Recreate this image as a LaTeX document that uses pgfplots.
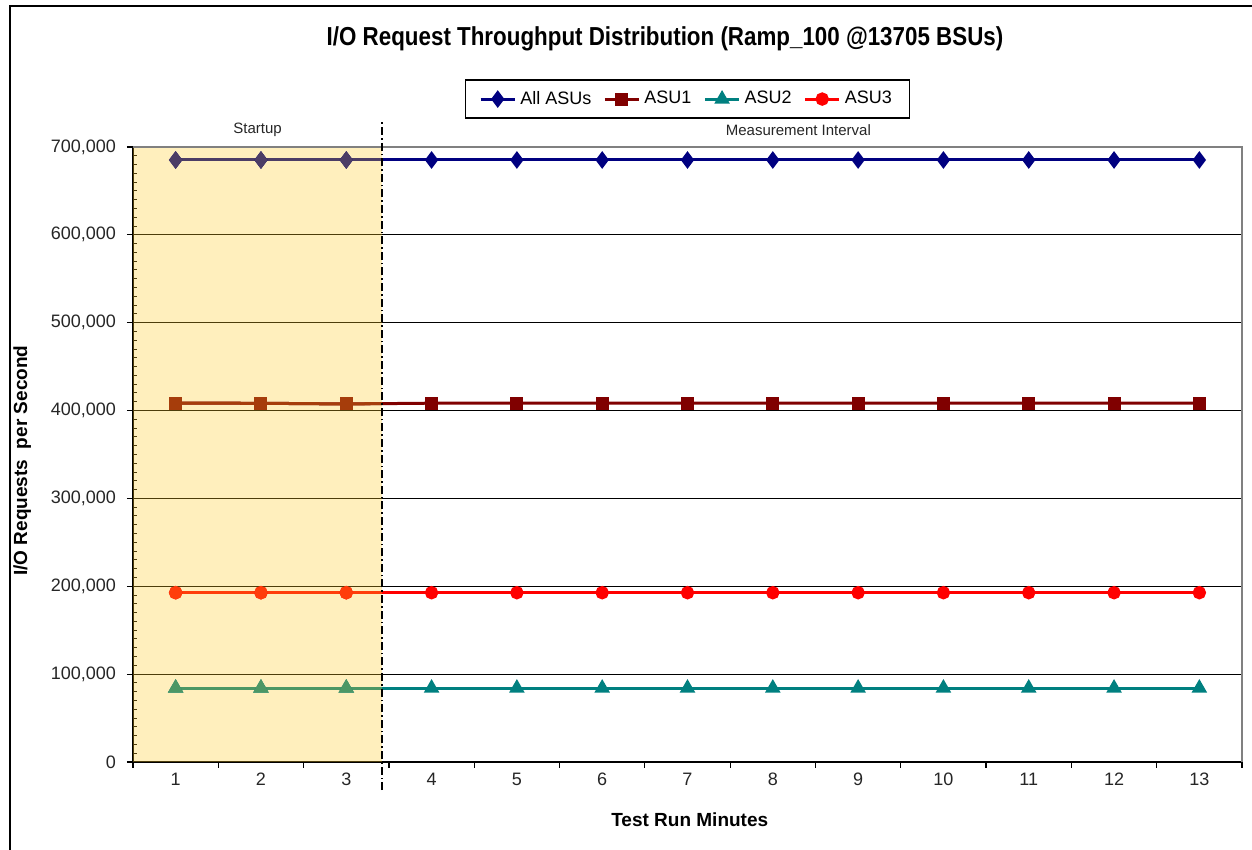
\documentclass[border=0pt]{standalone}
\usepackage{pgfplots}
\pgfplotsset{compat=1.18}
\usepackage{fontspec}
\setmainfont{Liberation Sans}
\newfontfamily\condfont{Liberation Sans}[FakeStretch=0.86]
\definecolor{cAll}{RGB}{0,0,128}
\definecolor{cA1}{RGB}{128,0,0}
\definecolor{cA2}{RGB}{0,128,128}
\definecolor{cA3}{RGB}{255,0,0}
\definecolor{tAll}{RGB}{76,61,101}
\definecolor{tA1}{RGB}{166,61,11}
\definecolor{tA2}{RGB}{76,151,101}
\definecolor{tA3}{RGB}{255,61,11}
\definecolor{cStart}{RGB}{255,205,38}
\begin{document}
\begin{tikzpicture}
\useasboundingbox (-66.5pt,-44pt) rectangle (559.5pt,381pt);
\fill[white] (-66.5pt,-44pt) rectangle (559.5pt,381pt);
\draw[line width=1pt] (-61.5pt,-50pt) -- (-61.5pt,378pt) -- (565pt,378pt);
\begin{axis}[
  at={(0,0)}, anchor=south west,
  scale only axis, width=554.5pt, height=307.5pt,
  xmin=0.5, xmax=13.5, ymin=0, ymax=700000,
  axis lines*=left,
  axis line style={black, line width=0.6pt},
  xtick={0.5,1.5,...,13.5},
  xticklabels={},
  extra x ticks={1,2,3,4,5,6,7,8,9,10,11,12,13},
  extra x tick labels={1,2,3,4,5,6,7,8,9,10,11,12,13},
  extra x tick style={major tick length=0pt, tick style={draw=none}},
  ytick={0,100000,...,700000},
  minor y tick num=9,
  scaled y ticks=false,
  tick align=outside,
  major tick length=3pt,
  minor tick length=-2pt,
  major tick style={black, line width=0.6pt},
  minor y tick style={black, line width=0.5pt},
  ymajorgrids,
  major grid style={black, line width=0.5pt},
  /pgf/number format/assume math mode=true,
  tick label style={font=\fontsize{9}{10}\selectfont, text=black!85},
  yticklabel style={/pgf/number format/fixed, /pgf/number format/1000 sep={,}, xshift=-2pt},
  xticklabel style={yshift=-2pt},
  xlabel={\textbf{Test Run Minutes}},
  ylabel={\textbf{I/O Requests\ \ per Second}},
  label style={font=\fontsize{9.5}{11}\selectfont},
  xlabel style={at={(axis description cs:0.502,-0.094)}, anchor=center},
  ylabel style={at={(axis description cs:-0.1,0.49)}, anchor=center},
  clip=false,
  legend columns=4,
  legend style={at={(0.5,1.046)}, anchor=south, draw=black, line width=0.6pt,
    font=\fontsize{9}{10}\selectfont, inner xsep=7pt, inner ysep=3.5pt,
    /tikz/every even column/.append style={column sep=4pt}},
  legend cell align=left,
]
% startup shading (under the series; tinted copies of the series are drawn over it)
\addplot[draw=none, fill=cStart, fill opacity=0.3, forget plot] coordinates {
(0.5,0) (3.42,0) (3.42,700000) (0.5,700000)} -- cycle;
\addplot[cAll, line width=1.5pt, mark=diamond*, mark size=3.2pt, mark options={solid}] coordinates {
(1,685200) (2,685200) (3,685200) (4,685200) (5,685200) (6,685200) (7,685200)
(8,685200) (9,685200) (10,685200) (11,685200) (12,685200) (13,685200)};
\addlegendentry{All ASUs}
\addplot[cA1, line width=1.5pt, mark=square*, mark size=2.5pt] coordinates {
(1,408400) (2,408300) (3,407500) (4,408400) (5,408400) (6,408400) (7,408400)
(8,408400) (9,408400) (10,408400) (11,408400) (12,408400) (13,408400)};
\addlegendentry{ASU1}
\addplot[cA2, line width=1.5pt, mark=triangle*, mark size=3pt] coordinates {
(1,84150) (2,84150) (3,84150) (4,84150) (5,84150) (6,84150) (7,84150)
(8,84150) (9,84150) (10,84150) (11,84150) (12,84150) (13,84150)};
\addlegendentry{ASU2}
\addplot[cA3, line width=1.5pt, mark=*, mark size=2.6pt] coordinates {
(1,192700) (2,192700) (3,192700) (4,192700) (5,192700) (6,192700) (7,192700)
(8,192700) (9,192700) (10,192700) (11,192700) (12,192700) (13,192700)};
\addlegendentry{ASU3}
% startup portion seen through the shading
\addplot[tAll, line width=1.5pt, no marks, forget plot] coordinates {(3,685200) (3.42,685200)};
\addplot[tA1, line width=1.5pt, no marks, forget plot] coordinates {(3,407500) (3.42,408000)};
\addplot[tA2, line width=1.5pt, no marks, forget plot] coordinates {(3,84150) (3.42,84150)};
\addplot[tA3, line width=1.5pt, no marks, forget plot] coordinates {(3,192700) (3.42,192700)};
\addplot[tAll, line width=1.5pt, mark=diamond*, mark size=3.2pt, forget plot] coordinates {(1,685200) (2,685200) (3,685200)};
\addplot[tA1, line width=1.5pt, mark=square*, mark size=2.5pt, forget plot] coordinates {(1,408400) (2,408300) (3,407500)};
\addplot[tA2, line width=1.5pt, mark=triangle*, mark size=3pt, forget plot] coordinates {(1,84150) (2,84150) (3,84150)};
\addplot[tA3, line width=1.5pt, mark=*, mark size=2.6pt, forget plot] coordinates {(1,192700) (2,192700) (3,192700)};
\addplot[black!50, line width=0.6pt, forget plot] coordinates {(0.5,700000) (13.5,700000) (13.5,0)};
\addplot[black, line width=0.6pt, dash pattern=on 4pt off 1.5pt on 0.8pt off 1.5pt, forget plot] coordinates {(3.42,-32000) (3.42,731000)};
\node[font=\fontsize{7.5}{9}\selectfont, text=black!85] at (axis cs:1.96,719000) {Startup};
\node[font=\fontsize{7.5}{9}\selectfont, text=black!85] at (axis cs:8.3,719000) {Measurement Interval};
\end{axis}
\node[font=\condfont\bfseries\fontsize{13}{15}\selectfont] at (266pt,361.5pt) {I/O\ Request Throughput Distribution (Ramp\_100 @13705 BSUs)};
\end{tikzpicture}
\end{document}
